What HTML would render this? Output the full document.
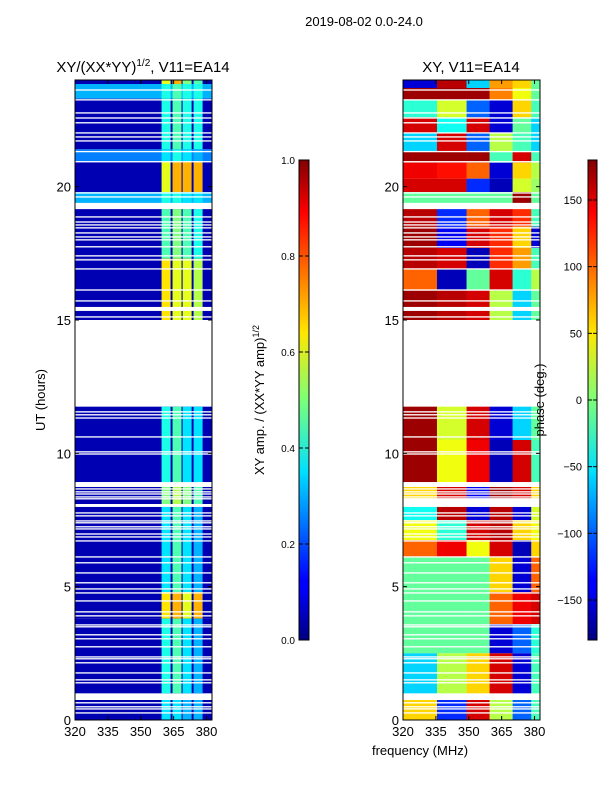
<!DOCTYPE html>
<html><head><meta charset="utf-8"><style>
html,body{margin:0;padding:0;background:#fff;}
svg{display:block;font-family:"Liberation Sans","DejaVu Sans",sans-serif;}
</style></head><body>
<svg id="fig" width="600" height="800" viewBox="0 0 600 800" xmlns="http://www.w3.org/2000/svg">
<defs>
<linearGradient id="jet" x1="0" y1="1" x2="0" y2="0">
<stop offset="0" stop-color="#000080"/><stop offset="0.11" stop-color="#0000ff"/><stop offset="0.125" stop-color="#0000ff"/>
<stop offset="0.34" stop-color="#00d4ff"/><stop offset="0.35" stop-color="#00e0ff"/><stop offset="0.5" stop-color="#7cff79"/>
<stop offset="0.64" stop-color="#ffe600"/><stop offset="0.66" stop-color="#ffd400"/><stop offset="0.89" stop-color="#ff0000"/>
<stop offset="1" stop-color="#800000"/></linearGradient>
</defs>
<text x="364" y="26" font-size="13" text-anchor="middle">2019-08-02 0.0-24.0</text>
<text x="143" y="72" font-size="15" text-anchor="middle">XY/(XX*YY)<tspan font-size="10" dy="-6">1/2</tspan><tspan dy="6">, V11=EA14</tspan></text>
<text x="471" y="72" font-size="15" text-anchor="middle">XY, V11=EA14</text>
<text x="45" y="400" font-size="13" text-anchor="middle" transform="rotate(-90 45 400)">UT (hours)</text>
<text x="420" y="755" font-size="13" text-anchor="middle">frequency (MHz)</text>
<g id="ampPanel"></g>
<g id="phPanel"></g>
<rect x="299" y="160" width="10" height="480" fill="url(#jet)" stroke="#000" stroke-width="1"/>
<rect x="588" y="160" width="9" height="480" fill="url(#jet)" stroke="#000" stroke-width="1"/>
<g id="cb1"></g>
<g id="cb2"></g>
<text x="264" y="400" font-size="13" text-anchor="middle" transform="rotate(-90 264 400)">XY amp. / (XX*YY amp)<tspan font-size="9" dy="-5">1/2</tspan></text>
<text x="544" y="400" font-size="13" text-anchor="middle" transform="rotate(-90 544 400)">phase (deg.)</text>
</svg>
<script>
const xTicks=[320,335,350,365,380];
const yTicks=[0,5,10,15,20];
const ampCbTicks=[0.0,0.2,0.4,0.6,0.8,1.0];
const phCbTicks=[-150,-100,-50,0,50,100,150];
const ampStripeLo=[359.5,364.5,369.1,374.1];
const ampStripeHi=[363.6,368.6,373.2,378.2];
const ampBandStart=[23.85,23.3,21.4,20.95,19.8,19.39,17.3,15.0,8.92,8.0,4.8,3.8,1.0,0.0];
const ampBandEnd=[24,23.85,23.3,21.4,20.95,19.8,19.16,17.3,11.75,8.74,8.0,4.8,3.8,0.75];
const ampBg=[0.05,0.3,0.05,0.25,0.05,0.3,0.05,0.05,0.05,0.05,0.05,0.05,0.05,0.05];
const ampS1=[0.6,0.4,0.4,0.35,0.6,0.4,0.45,0.65,0.4,0.5,0.35,0.65,0.4,0.35];
const ampS2=[0.7,0.45,0.45,0.4,0.7,0.4,0.5,0.6,0.45,0.55,0.45,0.7,0.45,0.35];
const ampS3=[0.5,0.4,0.4,0.35,0.7,0.35,0.45,0.6,0.35,0.5,0.35,0.6,0.35,0.3];
const ampS4=[0.45,0.4,0.4,0.3,0.7,0.35,0.4,0.55,0.35,0.45,0.3,0.7,0.3,0.3];
const phEdges=[320,335.5,349,359.5,370,378.5,382.5];
const phBandStart=[23.7,23.25,22.6,22.0,21.3,20.9,20.3,19.8,19.39,18.5,17.7,16.9,16.1,15.0,10.5,8.92,8.3,7.5,6.75,6.1,4.8,3.6,2.5,1.0,0.0];
const phBandEnd=[24,23.7,23.25,22.6,22.0,21.3,20.9,20.3,19.8,19.16,18.5,17.7,16.9,16.1,11.75,10.5,8.74,8.0,7.5,6.75,6.1,4.8,3.6,2.5,0.75];
const ph1=[-150,170,-30,150,-60,170,140,150,-10,160,170,160,100,170,170,170,60,-40,40,100,-10,-10,-10,-60,60];
const ph2=[160,170,30,-40,150,170,130,150,-10,-120,-140,150,-160,160,30,40,150,160,-30,140,-10,-10,-10,20,-120];
const ph3=[-60,170,-100,150,-100,170,100,-120,-10,100,150,-160,-10,150,150,140,-140,-150,150,40,-10,-10,-10,60,150];
const ph4=[80,90,-150,-150,20,-20,-150,-160,-10,150,120,120,150,20,-150,-160,170,160,160,150,60,100,-150,150,20];
const ph5=[60,40,60,-10,-20,150,60,30,170,120,60,80,-30,-60,-60,150,150,-150,60,-160,-150,140,-100,-150,-100];
const ph6=[-10,-10,-20,-60,-60,-20,20,10,-10,-20,-150,-20,20,-10,-10,-20,60,30,40,60,100,150,-30,-20,-20];
const gapStart=[23.6,23.23,22.74,22.55,22.37,21.99,21.84,21.69,21.29,20.91,19.74,19.59,19.16,18.84,18.65,18.54,18.43,18.24,18.09,17.98,17.72,17.38,17.23,16.89,16.1,15.69,15.34,15.09,11.53,11.42,11.3,10.59,10.03,9.95,8.74,8.64,8.53,8.45,8.34,8.27,7.99,7.74,7.63,7.44,7.37,7.22,7.14,6.95,6.84,6.69,6.09,5.87,5.49,5.12,4.89,4.74,4.44,4.03,3.88,3.54,3.47,3.17,3.02,2.72,2.34,2.27,2.12,1.74,1.48,1.37,0.75,0.62,0.47,0.39,0.24];
const gapEnd=[23.65,23.28,22.79,22.6,22.42,22.04,21.89,21.74,21.34,20.96,19.79,19.64,19.39,18.89,18.7,18.59,18.48,18.29,18.14,18.03,17.77,17.43,17.28,16.94,16.15,15.74,15.49,15.14,11.58,11.47,11.35,10.64,10.08,10.0,8.92,8.69,8.58,8.5,8.39,8.32,8.1,7.79,7.68,7.49,7.42,7.27,7.19,7.0,6.89,6.74,6.14,5.92,5.54,5.17,4.94,4.79,4.49,4.08,3.93,3.59,3.52,3.22,3.07,2.77,2.39,2.32,2.17,1.79,1.53,1.42,0.94,0.67,0.52,0.44,0.29];

const NS="http://www.w3.org/2000/svg";
function jet(v){v=Math.max(0,Math.min(1,v));
 const f=(x)=>Math.round(255*Math.max(0,Math.min(1,x)));
 const r=1.5-Math.abs(4*v-3),g=1.5-Math.abs(4*v-2),b=1.5-Math.abs(4*v-1);
 return `rgb(${f(r)},${f(g)},${f(b)})`;}
function mk(parent,tag,attrs){const e=document.createElementNS(NS,tag);for(const k in attrs)e.setAttribute(k,attrs[k]);parent.appendChild(e);return e;}
const Y0=720,Y1=80;
const yS=h=>Y0-(h/24)*(Y0-Y1);
function xScale(x0){return f=>x0+(f-320)/(382.5-320)*137;}

function drawAxes(g,x0){
 const xs=xScale(x0);
 mk(g,'rect',{x:x0,y:Y1,width:137,height:Y0-Y1,fill:'none',stroke:'#000','stroke-width':1});
 xTicks.forEach(t=>{const x=xs(t);
  const l=mk(g,'line',{x1:x,x2:x,y1:Y0,y2:Y0-4,stroke:'#000'});
  
  
  mk(g,'line',{x1:x,x2:x,y1:Y1,y2:Y1+4,stroke:'#000'});
  const tx=mk(g,'text',{x:x,y:Y0+16,'font-size':13,'text-anchor':'middle'});tx.textContent=t;
  
  });
 yTicks.forEach(t=>{const y=yS(t);
  mk(g,'line',{x1:x0,x2:x0+4,y1:y,y2:y,stroke:'#000'});
  mk(g,'line',{x1:x0+137,x2:x0+133,y1:y,y2:y,stroke:'#000'});
  const tx=mk(g,'text',{x:x0-4,y:y+5,'font-size':13,'text-anchor':'end'});tx.textContent=t;
  
  });
}
function drawGaps(g,x0){
 gapStart.forEach((s,i)=>{const r=mk(g,'rect',{x:x0,y:yS(gapEnd[i]),width:137,height:Math.max(1,yS(s)-yS(gapEnd[i])),fill:'#fff'});
  
  });
}
// amp panel
(function(){const g=document.getElementById('ampPanel');const x0=75;const xs=xScale(x0);
 const stripes=[ampS1,ampS2,ampS3,ampS4];
 ampBandStart.forEach((s,i)=>{const y=yS(ampBandEnd[i]),h=yS(s)-y;
  const r=mk(g,'rect',{x:x0,y:y,width:137,height:h,fill:jet(ampBg[i])});
  
  
  stripes.forEach((arr,k)=>{const c=mk(g,'rect',{x:xs(ampStripeLo[k]),y:y,width:xs(ampStripeHi[k])-xs(ampStripeLo[k]),height:h,fill:jet(arr[i])});
   
   });});
 drawGaps(g,x0);drawAxes(g,x0);})();
// phase panel
(function(){const g=document.getElementById('phPanel');const x0=403;const xs=xScale(x0);
 const cols=[ph1,ph2,ph3,ph4,ph5,ph6];
 phBandStart.forEach((s,i)=>{const y=yS(phBandEnd[i]),h=yS(s)-y;
  cols.forEach((arr,k)=>{const c=mk(g,'rect',{x:xs(phEdges[k]),y:y,width:xs(phEdges[k+1])-xs(phEdges[k])+0.3,height:h,fill:jet((arr[i]+180)/360)});
   
   });});
 drawGaps(g,x0);drawAxes(g,x0);})();
// colorbars
(function(){const g1=document.getElementById('cb1');
 ampCbTicks.forEach(t=>{const y=640-t*480;
  mk(g1,'line',{x1:299,x2:303,y1:y,y2:y,stroke:'#000'});mk(g1,'line',{x1:309,x2:305,y1:y,y2:y,stroke:'#000'});
  const tx=mk(g1,'text',{x:295,y:y+4,'font-size':10,'text-anchor':'end'});tx.textContent=t.toFixed(1);
  
  });
 const g2=document.getElementById('cb2');
 phCbTicks.forEach(t=>{const y=640-(t+180)/360*480;
  mk(g2,'line',{x1:588,x2:592,y1:y,y2:y,stroke:'#000'});mk(g2,'line',{x1:597,x2:593,y1:y,y2:y,stroke:'#000'});
  const tx=mk(g2,'text',{x:582,y:y+4,'font-size':11,'text-anchor':'end'});tx.textContent=(t<0?'\u2212'+(-t):t);
  
  });})();
</script>
</body></html>
